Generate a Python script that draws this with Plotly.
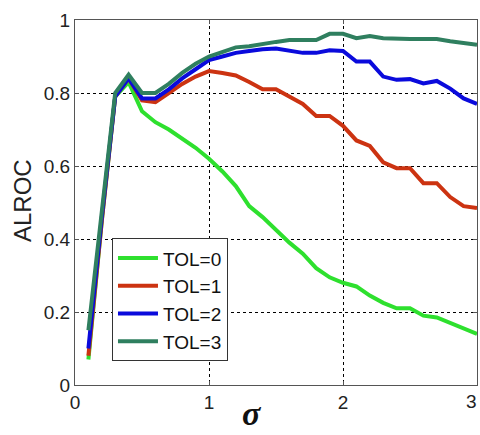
import plotly.graph_objects as go

sigma = [round(0.1 * i, 1) for i in range(1, 31)]
tol0 = [0.07, 0.45, 0.79, 0.83, 0.75, 0.72, 0.70, 0.675, 0.65, 0.62,
        0.585, 0.545, 0.49, 0.46, 0.425, 0.39, 0.36, 0.32, 0.295, 0.28,
        0.27, 0.245, 0.225, 0.21, 0.21, 0.19, 0.185, 0.17, 0.155, 0.14]
tol1 = [0.08, 0.45, 0.79, 0.84, 0.78, 0.775, 0.80, 0.825, 0.845, 0.86,
        0.855, 0.848, 0.83, 0.81, 0.81, 0.79, 0.77, 0.737, 0.737, 0.71,
        0.67, 0.655, 0.61, 0.594, 0.594, 0.553, 0.553, 0.515, 0.49, 0.485]
tol2 = [0.10, 0.46, 0.79, 0.84, 0.785, 0.785, 0.81, 0.84, 0.865, 0.89,
        0.90, 0.91, 0.915, 0.92, 0.922, 0.917, 0.91, 0.91, 0.917, 0.915,
        0.886, 0.886, 0.845, 0.836, 0.838, 0.826, 0.833, 0.812, 0.785, 0.77]
tol3 = [0.15, 0.48, 0.80, 0.85, 0.80, 0.80, 0.825, 0.855, 0.88, 0.90,
        0.912, 0.925, 0.928, 0.935, 0.94, 0.945, 0.945, 0.945, 0.962, 0.962,
        0.95, 0.956, 0.95, 0.948, 0.948, 0.948, 0.948, 0.942, 0.938, 0.932]

names = ["TOL=0", "TOL=1", "TOL=2", "TOL=3"]
colors = ["#2EE02E", "#CC3311", "#0A0ADC", "#2F7F5F"]
series = [tol0, tol1, tol2, tol3]
x_ticks = [0, 1, 2, 3]
x_tick_text = ["0", "1", "2", "3"]

fig = go.Figure()
for n, c, s in zip(names, colors, series):
    fig.add_trace(go.Scatter(x=sigma, y=s, name=n, mode="lines",
                             line=dict(color=c, width=4)))

tick_font = dict(family="Arial, Liberation Sans", size=19, color="#222222")
axis_common = dict(
    showline=True, linecolor="#555555", linewidth=1, mirror="ticks",
    ticks="inside", ticklen=4, tickcolor="#555555",
    showgrid=True, gridcolor="#000000", gridwidth=1, griddash="3px,3px",
    zeroline=False, automargin=False, tickfont=tick_font,
)

fig.update_layout(
    width=480, height=435,
    margin=dict(l=75, r=3, t=20, b=50),
    paper_bgcolor="white", plot_bgcolor="white",
    xaxis=dict(range=[0, 3], tickvals=x_ticks,
               ticktext=x_tick_text[:-1] + [""],
               **axis_common),
    yaxis=dict(range=[0, 1], tickvals=[0, 0.2, 0.4, 0.6, 0.8, 1],
               ticktext=["0", "0.2", "0.4", "0.6", "0.8", "1"],
               **axis_common),
    legend=dict(x=0.092, y=0.402, xanchor="left", yanchor="top",
                bgcolor="white", bordercolor="#333333", borderwidth=1,
                font=dict(family="Arial, Liberation Sans", size=19, color="#111111"),
                tracegroupgap=0, itemwidth=40),
    showlegend=True,
    annotations=[
        dict(text=x_tick_text[-1], xref="paper", yref="paper", x=(479 - 75) / 402,
             y=-(401 - 385) / 365, xanchor="right", yanchor="middle", showarrow=False,
             font=tick_font),
        dict(text="σ", xref="paper", yref="paper", x=(252 - 75) / 402, y=-(434 - 385) / 365,
             xanchor="center", yanchor="bottom", showarrow=False,
             font=dict(family="Liberation Serif", size=34, style="italic", weight="bold", color="#111111")),
        dict(text="ALROC", xref="paper", yref="paper", x=-(75 - 22) / 402, y=(385 - 200) / 365,
             xanchor="center", yanchor="middle", showarrow=False, textangle=-90,
             font=dict(family="Arial, Liberation Sans", size=24, color="#222222")),
    ],
)

fig.write_html("out.html")
